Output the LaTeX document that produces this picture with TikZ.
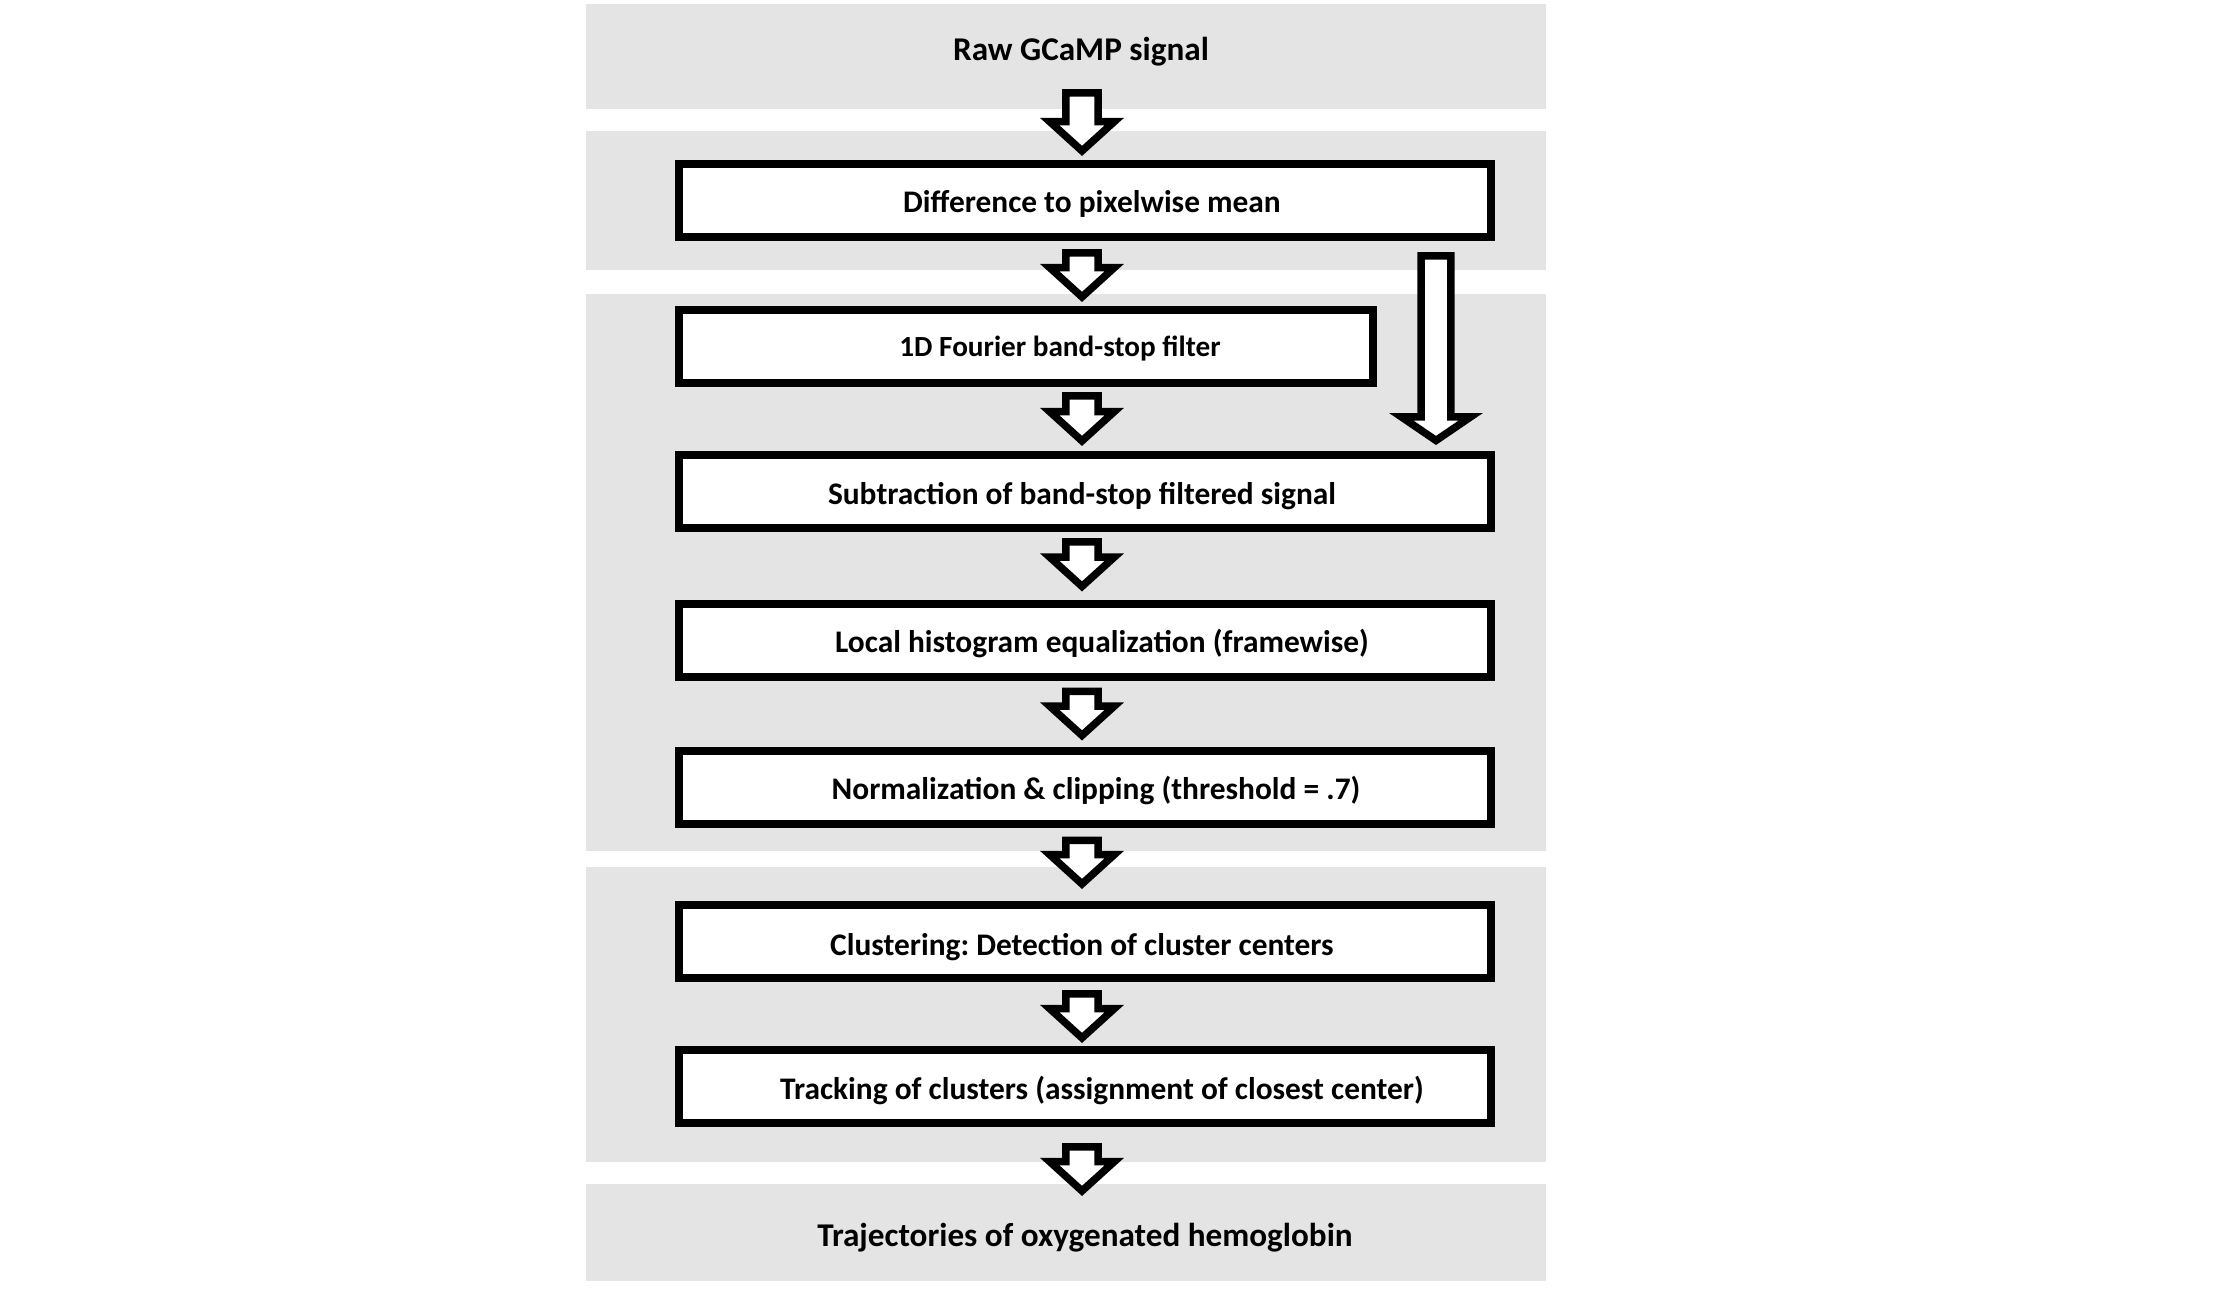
\documentclass[tikz,border=0pt]{standalone}
\usepackage{fontspec}
\setmainfont{Carlito}
\usetikzlibrary{calc}
\definecolor{panelgray}{HTML}{E4E4E4}
\frenchspacing
\tikzset{
  panel/.style={fill=panelgray, draw=none},
  procbox/.style={draw=black, line width=4pt, fill=white, inner sep=0pt, minimum height=36.5pt},
  lbl/.style={font=\bfseries\fontsize{16.6}{19}\selectfont, inner sep=0pt, anchor=base},
  boxlbl/.style={font=\bfseries\fontsize{15.7}{18}\selectfont, inner sep=0pt, anchor=base},
  smlbl/.style={font=\bfseries\fontsize{14.6}{17}\selectfont, inner sep=0pt, anchor=base},
  barrow/.style={draw=black, fill=white, line width=3.75pt, line join=miter}
}
% #1 outer top, #2 outer tip, #3 shaft half width, #4 head half width, #5 head length, #6 tip offset
\newcommand\blockarr[6]{%
  \draw[barrow] let \p1=(#1), \p2=(#2) in
    (\x1-#3,\y1-1.875pt) -- (\x1-#3,\y2+#6+#5) -- (\x1-#4,\y2+#6+#5) -- (\x1,\y2+#6)
    -- (\x1+#4,\y2+#6+#5) -- (\x1+#3,\y2+#6+#5) -- (\x1+#3,\y1-1.875pt) -- cycle;}
\newcommand\stdarr[2]{\blockarr{#1}{#2}{8.1pt}{16.1pt}{14.6pt}{2.55pt}}
\begin{document}
\begin{tikzpicture}[x=0.5pt,y=-0.5pt]
\useasboundingbox (0,0) rectangle (2218,1290);
% panels
\path[panel] (586,4) rectangle (1546,109);
\path[panel] (586,131) rectangle (1546,270);
\path[panel] (586,294) rectangle (1546,851);
\path[panel] (586,867) rectangle (1546,1162);
\path[panel] (586,1184) rectangle (1546,1281);
% boxes
\node[procbox, minimum width=406pt] (b1) at (1085,200.5) {};
\node[procbox, minimum width=347pt] (b2) at (1026,346.5) {};
\node[procbox, minimum width=406pt] (b3) at (1085,491.5) {};
\node[procbox, minimum width=406pt] (b4) at (1085,640) {};
\node[procbox, minimum width=406pt] (b5) at (1085,787) {};
\node[procbox, minimum width=406pt] (b6) at (1085,941.5) {};
\node[procbox, minimum width=406pt] (b7) at (1085,1086.5) {};
% texts
\node[lbl] (t0) at (1081,61) {Raw GCaMP signal};
\node[boxlbl] (t1) at (1092,212) {Difference to pixelwise mean};
\node[smlbl] (t2) at (1060,356) {1D Fourier band-stop filter};
\node[boxlbl] (t3) at (1082,504) {Subtraction of band-stop filtered signal};
\node[boxlbl] (t4) at (1102,652) {Local histogram equalization (framewise)};
\node[boxlbl] (t5) at (1096,799) {Normalization \& clipping (threshold = .7)};
\node[boxlbl] (t6) at (1082,955) {Clustering: Detection of cluster centers};
\node[boxlbl] (t7) at (1102,1099) {Tracking of clusters (assignment of closest center)};
\node[lbl] (t8) at (1085,1246) {Trajectories of oxygenated hemoglobin};
% arrows
\stdarr{$(b1.north)+(-3,-71)$}{$(b1.north)+(-3,-4)$}
\stdarr{$(b1.south)+(-3,8)$}{$(b2.north -| b1.south)+(-3,-4)$}
\stdarr{$(b2.south -| b1.south)+(-3,5)$}{$(b3.north)+(-3,-5)$}
\stdarr{$(b3.south)+(-3,6)$}{$(b4.north)+(-3,-8)$}
\stdarr{$(b4.south)+(-3,7)$}{$(b5.north)+(-3,-6)$}
\stdarr{$(b5.south)+(-3,9)$}{$(b6.north)+(-3,-12)$}
\stdarr{$(b6.south)+(-3,8)$}{$(b7.north)+(-3,-3)$}
\stdarr{$(b7.south)+(-3,16)$}{$(b7.south)+(-3,69)$}
\blockarr{$(b1.south)+(351,11)$}{$(b3.north)+(351,-6)$}{7.4pt}{17.4pt}{11.85pt}{2.27pt}
\end{tikzpicture}
\end{document}
